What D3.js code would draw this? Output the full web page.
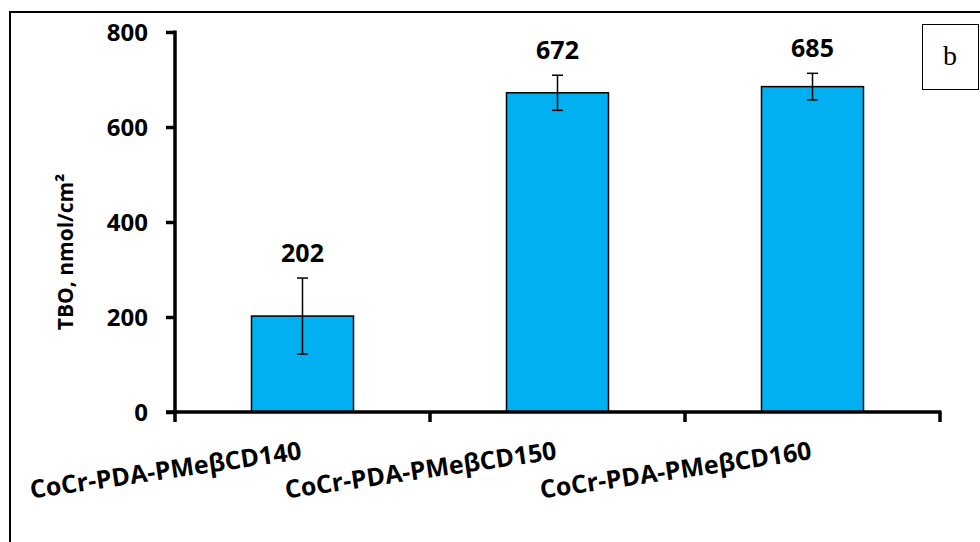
<!DOCTYPE html>
<html>
<head>
<meta charset="utf-8">
<script src="https://cdn.jsdelivr.net/npm/d3@7"></script>
<style>
  body { margin: 0; background: #fff; }
  svg { display: block; }
</style>
</head>
<body>
<svg id="chart" width="980" height="542"></svg>
<script>
const categories = ["CoCr-PDA-PMeβCD140", "CoCr-PDA-PMeβCD150", "CoCr-PDA-PMeβCD160"];
const values = [202, 672, 685];
const errors = [80, 37, 28];
const yTicks = [0, 200, 400, 600, 800];
const yTitle = "TBO, nmol/cm²";
const panelLabel = "b";

const svg = d3.select("#chart");
const font = "'Open Sans', sans-serif";

// outer frame
svg.append("path")
  .attr("d", "M10,543 L10,12 L981,12")
  .attr("fill", "none").attr("stroke", "#000").attr("stroke-width", 2);

const x = d3.scaleBand().domain(categories).range([175, 940]).paddingInner(0).paddingOuter(0);
const y = d3.scaleLinear().domain([0, 800]).range([412, 32]);
const barW = 102;

// bars
svg.selectAll("rect.bar").data(categories).join("rect")
  .attr("class", "bar")
  .attr("x", d => x(d) + x.bandwidth() / 2 - barW / 2)
  .attr("y", (d, i) => y(values[i]))
  .attr("width", barW)
  .attr("height", (d, i) => y(0) - y(values[i]))
  .attr("fill", "#00B0F0")
  .attr("stroke", "#000").attr("stroke-width", 1.5);

// error bars
const eb = svg.append("g").attr("stroke", "#000").attr("stroke-width", 1.5);
categories.forEach((c, i) => {
  const cx = x(c) + x.bandwidth() / 2;
  const y1 = y(values[i] + errors[i]), y2 = y(values[i] - errors[i]);
  eb.append("line").attr("x1", cx).attr("x2", cx).attr("y1", y1).attr("y2", y2);
  eb.append("line").attr("x1", cx - 5.5).attr("x2", cx + 5.5).attr("y1", y1).attr("y2", y1);
  eb.append("line").attr("x1", cx - 5.5).attr("x2", cx + 5.5).attr("y1", y2).attr("y2", y2);
});

// value labels
svg.selectAll("text.val").data(categories).join("text")
  .attr("class", "val")
  .attr("x", d => x(d) + x.bandwidth() / 2)
  .attr("y", (d, i) => y(values[i] + errors[i]) - 16)
  .attr("text-anchor", "middle")
  .attr("font-family", font).attr("font-weight", "bold").attr("font-size", 25)
  .text((d, i) => values[i]);

// y axis
const yAxis = svg.append("g").attr("transform", "translate(175,0)")
  .call(d3.axisLeft(y).tickValues(yTicks).tickSize(9).tickSizeOuter(0).tickPadding(18));
yAxis.select(".domain").remove();
yAxis.append("line").attr("x1", 0).attr("x2", 0).attr("y1", y(800) - 1.5).attr("y2", y(0) + 10)
  .attr("stroke", "#000").attr("stroke-width", 3.5);
yAxis.selectAll(".tick line").attr("stroke-width", 3.5);
yAxis.selectAll(".tick text")
  .attr("font-family", font).attr("font-weight", "bold").attr("font-size", 24)
  .attr("fill", "#000").attr("dy", "0.36em");

// x axis: line and ticks at band boundaries
const bounds = categories.map(c => x(c)).concat([x.range()[1]]);
const xAxis = svg.append("g");
xAxis.append("line").attr("x1", 166).attr("x2", 941.5).attr("y1", y(0)).attr("y2", y(0))
  .attr("stroke", "#000").attr("stroke-width", 3.5);
xAxis.selectAll("line.tk").data(bounds.slice(1)).join("line").attr("class", "tk")
  .attr("x1", d => d).attr("x2", d => d)
  .attr("y1", y(0)).attr("y2", y(0) + 10)
  .attr("stroke", "#000").attr("stroke-width", 3.5);

// x labels
svg.selectAll("text.xl").data(categories).join("text")
  .attr("class", "xl")
  .attr("transform", d => `translate(${x(d) + x.bandwidth() / 2},459) rotate(-8.3)`)
  .attr("text-anchor", "end")
  .attr("font-family", font).attr("font-weight", "bold").attr("font-size", 25)
  .text(d => d);

// y title
svg.append("text")
  .attr("transform", "translate(73,252) rotate(-90)")
  .attr("text-anchor", "middle")
  .attr("font-family", font).attr("font-weight", "bold").attr("font-size", 21)
  .text(yTitle);

// panel label box
svg.append("rect").attr("x", 922.5).attr("y", 24.5).attr("width", 56).attr("height", 65)
  .attr("fill", "#fff").attr("stroke", "#000").attr("stroke-width", 1);
svg.append("text").attr("x", 950).attr("y", 65)
  .attr("text-anchor", "middle")
  .attr("font-family", "'Liberation Serif', 'Times New Roman', serif").attr("font-size", 28)
  .text(panelLabel);
</script>
</body>
</html>
